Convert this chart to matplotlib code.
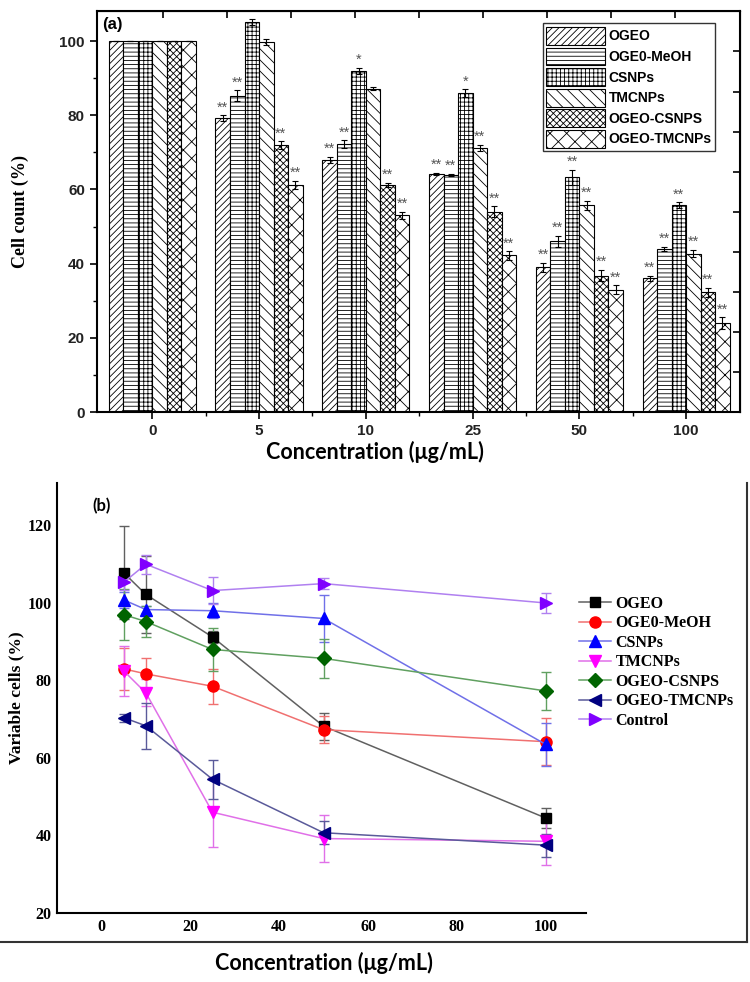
import matplotlib
matplotlib.use("Agg")
import matplotlib.pyplot as plt
import numpy as np
from matplotlib.lines import Line2D

# ---- panel (a): cell count bars ----
groups = ["0", "5", "10", "25", "50", "100"]
names_a = ["OGEO", "OGE0-MeOH", "CSNPs", "TMCNPs", "OGEO-CSNPS", "OGEO-TMCNPs"]

ogeo_a = [100, 79.2, 68, 64.2, 39, 36]
meoh_a = [100, 85.3, 72.3, 64, 46, 44]
csnps_a = [100, 105.2, 92, 86, 63.3, 55.8]
tmcnps_a = [100, 99.7, 87.2, 71.2, 55.7, 42.7]
ogeo_cs_a = [100, 72, 61.2, 54, 36.8, 32.3]
ogeo_tmc_a = [100, 61.2, 53, 42.2, 33, 24]

ogeo_a_err = [0, 0.8, 0.8, 0.3, 1.2, 0.8]
meoh_a_err = [0, 1.5, 1.0, 0.3, 1.5, 0.5]
csnps_a_err = [0, 0.8, 0.8, 1.0, 2.0, 0.8]
tmcnps_a_err = [0, 0.8, 0.3, 0.8, 1.2, 1.0]
ogeo_cs_a_err = [0, 1.0, 0.6, 1.5, 1.5, 1.2]
ogeo_tmc_a_err = [0, 1.2, 1.0, 1.2, 1.2, 1.5]

ogeo_a_sig = ["", "**", "**", "**", "**", "**"]
meoh_a_sig = ["", "**", "**", "**", "**", "**"]
csnps_a_sig = ["", "", "*", "*", "**", "**"]
tmcnps_a_sig = ["", "", "", "**", "**", "**"]
ogeo_cs_a_sig = ["", "**", "**", "**", "**", "**"]
ogeo_tmc_a_sig = ["", "**", "**", "**", "**", "**"]

# ---- panel (b): viable cells lines ----
conc = [5, 10, 25, 50, 100]
names_b = ["OGEO", "OGE0-MeOH", "CSNPs", "TMCNPs", "OGEO-CSNPS", "OGEO-TMCNPs", "Control"]

ogeo_b = [107.8, 102.2, 91.2, 68.2, 44.5]
meoh_b = [83, 81.7, 78.5, 67.3, 64.2]
csnps_b = [100.8, 98.3, 98, 96, 63.5]
tmcnps_b = [82.5, 76.8, 46, 39.2, 38.5]
ogeo_cs_b = [97, 95.2, 88, 85.7, 77.3]
ogeo_tmc_b = [70.4, 68.3, 54.5, 40.7, 37.5]
control_b = [105.3, 110, 103.2, 105, 100]

ogeo_b_err = [12, 10, 1.5, 3.5, 2.5]
meoh_b_err = [5.5, 4, 4.5, 3.5, 6]
csnps_b_err = [2, 1, 2, 6, 5.5]
tmcnps_b_err = [6.5, 3.5, 9, 6, 6]
ogeo_cs_b_err = [6.5, 4, 5.5, 5, 5]
ogeo_tmc_b_err = [1, 6, 5, 3, 3]
control_b_err = [2, 2.5, 3.5, 1.5, 2.5]

plt.rcParams["hatch.linewidth"] = 0.6
SANS = "Liberation Sans"
SERIF = "Liberation Serif"


def panel_a(fig):
    ax = fig.add_axes([0.129, 0.5804, 0.857, 0.408])
    series = [ogeo_a, meoh_a, csnps_a, tmcnps_a, ogeo_cs_a, ogeo_tmc_a]
    errs = [ogeo_a_err, meoh_a_err, csnps_a_err, tmcnps_a_err, ogeo_cs_a_err, ogeo_tmc_a_err]
    sigs = [ogeo_a_sig, meoh_a_sig, csnps_a_sig, tmcnps_a_sig, ogeo_cs_a_sig, ogeo_tmc_a_sig]
    hatches = ["/////", "----", "++++", "\\\\\\", "xxxxx", "xx"]

    x = np.arange(len(groups))
    w = 0.136
    for i, name in enumerate(names_a):
        xs = x + (i - 2.5) * w
        ax.bar(xs, series[i], w, yerr=errs[i], facecolor="white", edgecolor="black",
               linewidth=0.8, hatch=hatches[i], label=name,
               error_kw=dict(ecolor="black", elinewidth=0.8, capsize=2, capthick=0.8))
        for xx, v, e, s in zip(xs, series[i], errs[i], sigs[i]):
            if s:
                ax.text(xx, v + e + 0.2, s, ha="center", va="bottom", fontsize=10.5,
                        color="#555555", family=SANS)

    ax.set_xlim(-0.52, 5.5)
    ax.set_ylim(0, 108)
    ax.set_xticks(x)
    ax.set_xticklabels(groups)
    ax.set_xticks(x[:-1] + 0.5, minor=True)
    ax.set_yticks(np.arange(0, 101, 20))
    ax.set_yticks(np.arange(10, 110, 20), minor=True)
    ax.tick_params(which="major", direction="out", length=5, width=1.2)
    ax.tick_params(which="minor", direction="out", length=3, width=1.0)
    for lab in ax.get_xticklabels() + ax.get_yticklabels():
        lab.set_fontfamily(SANS)
        lab.set_fontweight("bold")
        lab.set_fontsize(11)
        lab.set_color("#222222")
    for sp in ax.spines.values():
        sp.set_linewidth(1.5)

    sec_y = ax.secondary_yaxis("right")
    sec_y.set_yticks(np.arange(1, 10) * 10.8)
    sec_y.tick_params(direction="in", length=5, width=1.2, labelright=False)
    sec_x = ax.secondary_xaxis("top")
    sec_x.set_xticks(np.arange(0.1, 5.5, 0.6))
    sec_x.tick_params(direction="in", length=5, width=1.2, labeltop=False)

    ax.set_ylabel("Cell count (%)", family=SERIF, fontweight="bold", fontsize=13, labelpad=22)
    ax.text(0.008, 0.985, "(a)", transform=ax.transAxes, ha="left", va="top",
            family=SANS, fontweight="bold", fontsize=12)

    leg = ax.legend(loc="upper left", bbox_to_anchor=(0.694, 0.97), borderaxespad=0,
                    fancybox=False, edgecolor="black", handlelength=4.2, handleheight=1.6,
                    handletextpad=0.3, labelspacing=0.2, borderpad=0.25,
                    prop=dict(family=SANS, weight="bold", size=10))
    leg.get_frame().set_linewidth(1.0)

    fig.text(0.50, 1 - 452 / 982, "Concentration (\u03bcg/mL)", ha="center", va="center",
             family="Lato", fontweight="bold", fontsize=15.5)


def panel_b(fig):
    ax = fig.add_axes([0.076, 0.0703, 0.705, 0.438])
    series = [ogeo_b, meoh_b, csnps_b, tmcnps_b, ogeo_cs_b, ogeo_tmc_b, control_b]
    errs = [ogeo_b_err, meoh_b_err, csnps_b_err, tmcnps_b_err, ogeo_cs_b_err,
            ogeo_tmc_b_err, control_b_err]
    mcolors = ["#000000", "#ff0000", "#0000ff", "#ff00ff", "#006400", "#000080", "#8000ff"]
    lcolors = ["#606060", "#f07070", "#7070e8", "#e070e8", "#60a060", "#5a5a9a", "#b080f0"]
    markers = ["s", "o", "^", "v", "D", "<", ">"]
    sizes = [7, 8, 8, 8, 7, 8, 8]

    handles = []
    for i, name in enumerate(names_b):
        ax.errorbar(conc, series[i], yerr=errs[i], color=lcolors[i], linewidth=1.1,
                    marker=markers[i], markersize=sizes[i], markerfacecolor=mcolors[i],
                    markeredgecolor=mcolors[i], ecolor=lcolors[i], elinewidth=1.0,
                    capsize=3.5, capthick=1.0)
        handles.append(Line2D([], [], color=lcolors[i], linewidth=1.1, marker=markers[i],
                              markersize=sizes[i], markerfacecolor=mcolors[i],
                              markeredgecolor=mcolors[i], label=name))

    ax.set_xlim(-10, 109)
    ax.set_ylim(20, 131)
    ax.set_xticks(np.arange(0, 101, 20))
    ax.set_yticks(np.arange(20, 121, 20))
    ax.tick_params(length=0, pad=4)
    for lab in ax.get_xticklabels() + ax.get_yticklabels():
        lab.set_fontfamily(SERIF)
        lab.set_fontweight("bold")
        lab.set_fontsize(11.5)
    ax.spines["top"].set_visible(False)
    ax.spines["right"].set_visible(False)
    ax.spines["left"].set_linewidth(1.5)
    ax.spines["bottom"].set_linewidth(1.5)

    ax.set_ylabel("Variable cells (%)", family=SERIF, fontweight="bold", fontsize=12.5, labelpad=2)
    ax.text(0.066, 0.965, "(b)", transform=ax.transAxes, ha="left", va="top",
            family="Lato", fontweight="bold", fontsize=12)

    ax.legend(handles=handles, loc="upper left", bbox_to_anchor=(0.975, 0.752),
              borderaxespad=0, frameon=False, handlelength=2.0, handletextpad=0.3,
              labelspacing=0.22, prop=dict(family=SERIF, weight="bold", size=11.5))

    fig.add_artist(Line2D([0, 747 / 750], [1 - 942 / 982, 1 - 942 / 982],
                          transform=fig.transFigure, color="#333333", linewidth=1.5))
    fig.add_artist(Line2D([747 / 750, 747 / 750], [1 - 942 / 982, 1 - 483 / 982],
                          transform=fig.transFigure, color="#333333", linewidth=1.5))

    fig.text(0.432, 1 - 963 / 982, "Concentration (\u03bcg/mL)", ha="center", va="center",
             family="Lato", fontweight="bold", fontsize=15.5)


def main():
    fig = plt.figure(figsize=(7.5, 9.82), dpi=100)
    panel_a(fig)
    panel_b(fig)
    fig.savefig("out.png", dpi=100)


if __name__ == "__main__":
    main()
